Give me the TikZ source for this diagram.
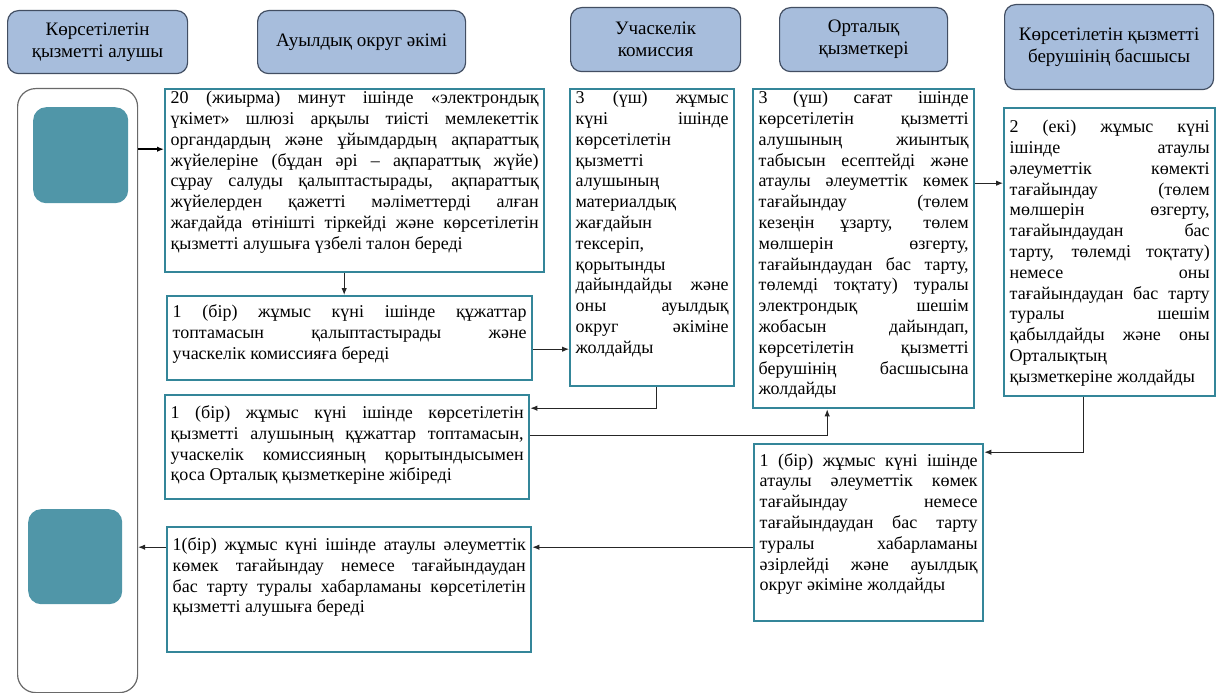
\documentclass[tikz,border=0pt]{standalone}
\usepackage{fontspec}
\setmainfont{Liberation Serif}
\usepackage{tikz}
\usetikzlibrary{positioning,arrows.meta}
\usepackage{xcolor}

\definecolor{rolefill}{RGB}{167,189,220}
\definecolor{roleline}{RGB}{66,78,98}
\definecolor{stepline}{RGB}{52,134,153}
\definecolor{tealfill}{RGB}{80,150,168}
\definecolor{laneline}{RGB}{105,105,105}

\hyphenpenalty=10000
\exhyphenpenalty=10000
\tolerance=10000

\tikzset{
  rolebox/.style={draw=roleline, line width=1.2pt, fill=rolefill, rounded corners=11pt,
    anchor=north west, align=center, inner sep=0pt, font=\fontsize{19}{22}\selectfont},
  stepbox/.style={draw=stepline, line width=2.4pt, anchor=north west,
    inner xsep=5.5pt, inner ysep=2pt, font=\fontsize{18}{20.8}\selectfont},
  tealbox/.style={fill=tealfill, rounded corners=13pt, anchor=north west, inner sep=0pt},
  flow/.style={->, draw=black!85, line width=1pt},
  flowthick/.style={->, draw=black, line width=2.2pt}
}
% width, height, top gap, text
\newcommand{\stepbody}[4]{\parbox[t][\dimexpr#2pt-4pt\relax][t]{\dimexpr#1pt-11pt\relax}{\vspace*{#3pt}#4}}

\begin{document}
\begin{tikzpicture}[x=1pt,y=-1pt,>={Latex[length=7pt,width=5.5pt]}]
  \useasboundingbox (0,0) rectangle (1216,693);

  % headers
  \node[rolebox, minimum width=180pt, minimum height=63pt] (KoAl) at (7,10) {Көрсетілетін\\қызметті алушы};
  \node[rolebox, minimum width=208pt, minimum height=63pt] (AuAk) at (257,10) {Ауылдық округ әкімі};
  \node[rolebox, minimum width=170pt, minimum height=64pt] (UcKo) at (570,7) {Учаскелік\\комиссия};
  \node[rolebox, minimum width=168pt, minimum height=64pt] (OrQy) at (779,7) {Орталық\\қызметкері};
  \node[rolebox, minimum width=209pt, minimum height=85pt] (BeBa) at (1004,4) {Көрсетілетін қызметті\\берушінің басшысы};

  % receiver lane
  \node[draw=laneline, line width=1.2pt, rounded corners=18pt, anchor=north west, inner sep=0pt,
    minimum width=120pt, minimum height=604pt] (AlLa) at (17,88) {};
  \node[tealbox, minimum width=95pt, minimum height=96pt] (AlSt) at (33,107) {};
  \node[tealbox, minimum width=94pt, minimum height=95pt] (AlEn) at (28,509) {};

  % akim steps
  \node[stepbox] (ZhSu) at (164,88) {\stepbody{379}{183}{0}{20 (жиырма) минут ішінде «электрондық\linebreak
    үкімет» шлюзі арқылы тиісті мемлекеттік\linebreak
    органдардың және ұйымдардың ақпараттық\linebreak
    жүйелеріне (бұдан әрі – ақпараттық жүйе)\linebreak
    сұрау салуды қалыптастырады, ақпараттық\linebreak
    жүйелерден қажетті мәліметтерді алған\linebreak
    жағдайда өтінішті тіркейді және көрсетілетін\linebreak
    қызметті алушыға үзбелі талон береді}};
  \node[stepbox] (KuTo) at (166,295) {\stepbody{365}{84}{6.5}{1 (бір) жұмыс күні ішінде құжаттар\linebreak
    топтамасын қалыптастырады және\linebreak
    учаскелік комиссияға береді}};
  \node[stepbox] (KoJi) at (164,394) {\stepbody{364}{104}{8.5}{1 (бір) жұмыс күні ішінде көрсетілетін\linebreak
    қызметті алушының құжаттар топтамасын,\linebreak
    учаскелік комиссияның қорытындысымен\linebreak
    қоса Орталық қызметкеріне жібіреді}};
  \node[stepbox] (HaBe) at (166,526) {\stepbody{364}{125}{8.5}{1(бір) жұмыс күні ішінде атаулы әлеуметтік\linebreak
    көмек тағайындау немесе тағайындаудан\linebreak
    бас тарту туралы хабарламаны көрсетілетін\linebreak
    қызметті алушыға береді}};

  % commission, centre, head
  \node[stepbox] (TeKo) at (569,88) {\stepbody{164}{297}{0}{3 (үш) жұмыс\linebreak
    күні ішінде\linebreak көрсетілетін\linebreak қызметті\linebreak алушының\linebreak
    материалдық\linebreak жағдайын\linebreak тексеріп,\linebreak қорытынды\linebreak
    дайындайды және\linebreak оны ауылдық\linebreak округ әкіміне\linebreak жолдайды}};
  \node[stepbox] (JiTa) at (752,88) {\stepbody{221}{319}{0}{3 (үш) сағат ішінде\linebreak
    көрсетілетін қызметті\linebreak алушының жиынтық\linebreak
    табысын есептейді және\linebreak атаулы әлеуметтік көмек\linebreak
    тағайындау (төлем\linebreak кезеңін ұзарту, төлем\linebreak
    мөлшерін өзгерту,\linebreak тағайындаудан бас тарту,\linebreak
    төлемді тоқтату) туралы\linebreak электрондық шешім\linebreak
    жобасын дайындап,\linebreak көрсетілетін қызметті\linebreak
    берушінің басшысына\linebreak жолдайды}};
  \node[stepbox] (ShKa) at (1003,107) {\stepbody{211}{288}{10}{2 (екі) жұмыс күні\linebreak
    ішінде атаулы\linebreak әлеуметтік көмекті\linebreak тағайындау (төлем\linebreak
    мөлшерін өзгерту,\linebreak тағайындаудан бас\linebreak
    тарту, төлемді тоқтату)\linebreak немесе оны\linebreak
    тағайындаудан бас тарту\linebreak туралы шешім\linebreak
    қабылдайды және оны\linebreak Орталықтың\linebreak қызметкеріне жолдайды}};
  \node[stepbox] (HaZa) at (753,443) {\stepbody{229}{177}{7}{1 (бір) жұмыс күні ішінде\linebreak
    атаулы әлеуметтік көмек\linebreak тағайындау немесе\linebreak
    тағайындаудан бас тарту\linebreak туралы хабарламаны\linebreak
    әзірлейді және ауылдық\linebreak округ әкіміне жолдайды}};

  % connectors
  \coordinate (a1) at ([yshift=31.5pt]ZhSu.west);
  \coordinate (a2) at ([xshift=-10.5pt]ZhSu.south);
  \coordinate (a3) at ([yshift=-11pt]KuTo.east);
  \coordinate (a4) at ([xshift=4pt]TeKo.south);
  \coordinate (a5) at ([yshift=39pt]KoJi.east);
  \coordinate (a6) at ([yshift=12pt]KoJi.east);
  \coordinate (a7) at ([xshift=-36.5pt]JiTa.south);
  \coordinate (a8) at ([yshift=65.5pt]JiTa.east);
  \coordinate (a9) at ([xshift=-26.5pt]ShKa.south);
  \coordinate (a10) at ([yshift=80.5pt]HaZa.east);
  \coordinate (a11) at ([yshift=-14.5pt]HaZa.west);

  \draw[flowthick] (a1 -| AlLa.east) -- (a1);
  \draw[flow] (a2) -- (a2 |- KuTo.north);
  \draw[flow] (a3) -- (a3 -| TeKo.west);
  \draw[flow] (a4) |- (a5);
  \draw[flow] (a6) -| (a7);
  \draw[flow] (a8) -- (a8 -| ShKa.west);
  \draw[flow] (a9) |- (a10);
  \draw[flow] (a11) -- (a11 -| HaBe.east);
  \draw[flow] (a11 -| HaBe.west) -- (a11 -| AlLa.east);
\end{tikzpicture}
\end{document}
